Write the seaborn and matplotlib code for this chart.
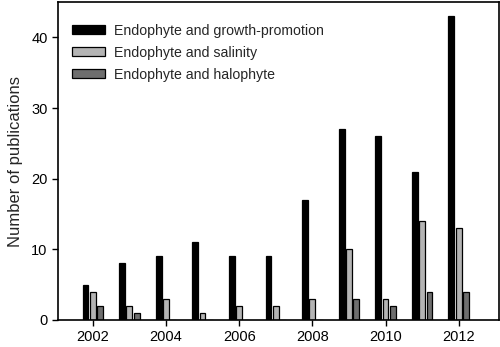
import matplotlib
matplotlib.use("Agg")
import matplotlib.pyplot as plt
import pandas as pd
import seaborn as sns

# Values
years = [2002, 2003, 2004, 2005, 2006, 2007, 2008, 2009, 2010, 2011, 2012]
growth = [5, 8, 9, 11, 9, 9, 17, 27, 26, 21, 43]
salinity = [4, 2, 3, 1, 2, 2, 3, 10, 3, 14, 13]
halophyte = [2, 1, 0, 0, 0, 0, 0, 3, 2, 4, 4]
series_names = ["Endophyte and growth-promotion",
                "Endophyte and salinity",
                "Endophyte and halophyte"]

df = pd.DataFrame({
    "year": years * 3,
    "count": growth + salinity + halophyte,
    "series": [series_names[0]] * len(years)
              + [series_names[1]] * len(years)
              + [series_names[2]] * len(years),
})

sns.set_style("ticks")
plt.rcParams["font.family"] = ["Liberation Sans", "DejaVu Sans"]

fig = plt.figure(figsize=(5, 3.47), dpi=100)
ax = fig.add_axes([0.116, 0.078, 0.882, 0.916])

palette = ["#000000", "#b4b4b4", "#6e6e6e"]
sns.barplot(data=df, x="year", y="count", hue="series", native_scale=True,
            palette=palette, width=0.6, gap=0.2, edgecolor="black",
            linewidth=0.9, ax=ax)

ax.set_xlim(2001.05, 2013.1)
ax.set_ylim(0, 45)
ax.set_xticks([2002, 2004, 2006, 2008, 2010, 2012])
ax.set_yticks([0, 10, 20, 30, 40])
ax.set_xlabel("")
ax.set_ylabel("Number of publications", fontsize=12, labelpad=6)
ax.tick_params(direction="out", labelsize=10.5, width=1, length=4, colors="black")
for s in ax.spines.values():
    s.set_linewidth(1.2)
    s.set_color("black")

ax.legend(loc="upper left", frameon=False, fontsize=10.2, handlelength=2.3,
          handleheight=0.55, handletextpad=0.6, labelspacing=0.56,
          borderaxespad=0.9, bbox_to_anchor=(-0.009, 0.99))

fig.savefig("out.png", dpi=100)
